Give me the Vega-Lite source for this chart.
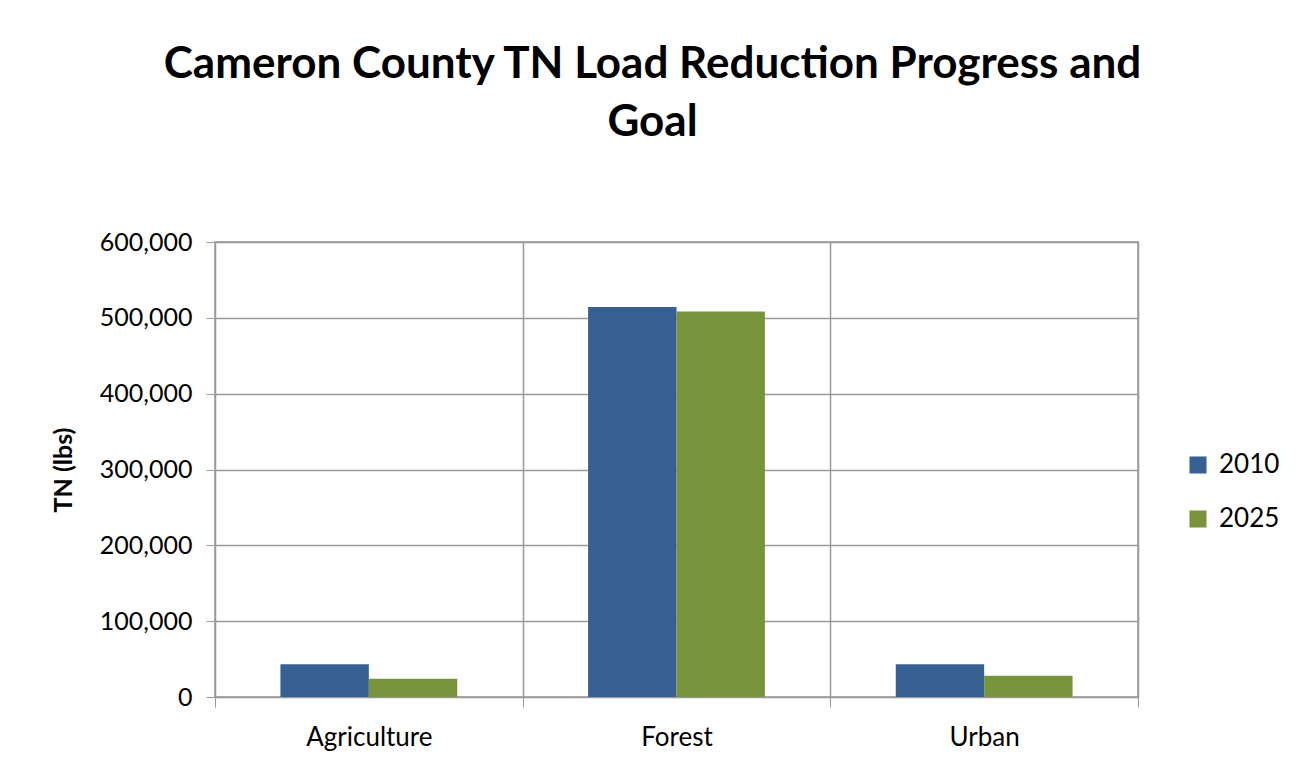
{
  "$schema": "https://vega.github.io/schema/vega-lite/v6.json",
  "width": 923,
  "height": 455,
  "autosize": {"type": "none"},
  "padding": {"left": 215, "top": 242, "right": 160, "bottom": 73},
  "background": "white",
  "title": {
    "text": ["Cameron County TN Load Reduction Progress and", "Goal"],
    "anchor": "middle",
    "frame": "group",
    "dx": -24,
    "offset": 85,
    "font": "Lato",
    "fontSize": 44,
    "fontWeight": "bold",
    "color": "#000000",
    "lineHeight": 58
  },
  "data": {
    "values": [
      {"category": "Agriculture", "year": "2010", "tn": 43200},
      {"category": "Agriculture", "year": "2025", "tn": 24200},
      {"category": "Forest", "year": "2010", "tn": 514300},
      {"category": "Forest", "year": "2025", "tn": 508200},
      {"category": "Urban", "year": "2010", "tn": 43200},
      {"category": "Urban", "year": "2025", "tn": 28100}
    ]
  },
  "mark": {"type": "bar"},
  "encoding": {
    "x": {
      "field": "category",
      "type": "nominal",
      "scale": {"paddingInner": 0, "paddingOuter": 0},
      "axis": {
        "title": null,
        "labelAngle": 0,
        "labelFont": "Lato",
        "labelFontSize": 26,
        "labelColor": "#000000",
        "labelPadding": 17,
        "tickBand": "extent",
        "ticks": true,
        "tickSize": 10,
        "tickColor": "#999999",
        "domainColor": "#999999",
        "grid": true,
        "gridColor": "#999999",
        "gridWidth": 1.5
      }
    },
    "xOffset": {
      "field": "year",
      "type": "nominal",
      "scale": {"paddingInner": 0, "paddingOuter": 0.74}
    },
    "y": {
      "field": "tn",
      "type": "quantitative",
      "scale": {"domain": [0, 600000]},
      "axis": {
        "title": "TN (lbs)",
        "titleFont": "Lato",
        "titleFontSize": 25,
        "titleFontWeight": "bold",
        "titleColor": "#000000",
        "titlePadding": 23,
        "values": [0, 100000, 200000, 300000, 400000, 500000, 600000],
        "format": ",d",
        "labelFont": "Lato",
        "labelFontSize": 25,
        "labelColor": "#000000",
        "labelPadding": 14,
        "ticks": true,
        "tickSize": 9,
        "tickColor": "#999999",
        "domainColor": "#999999",
        "grid": true,
        "gridColor": "#999999",
        "gridWidth": 1.5
      }
    },
    "color": {
      "field": "year",
      "type": "nominal",
      "scale": {"domain": ["2010", "2025"], "range": ["#376092", "#77933C"]},
      "legend": {
        "title": null,
        "orient": "none",
        "legendX": 970,
        "legendY": 210,
        "symbolType": "square",
        "symbolSize": 290,
        "symbolStrokeWidth": 0,
        "labelFont": "Lato",
        "labelFontSize": 26,
        "labelColor": "#000000",
        "rowPadding": 28,
        "labelOffset": 8
      }
    }
  },
  "config": {
    "view": {"stroke": "#999999", "strokeWidth": 1.5}
  }
}
